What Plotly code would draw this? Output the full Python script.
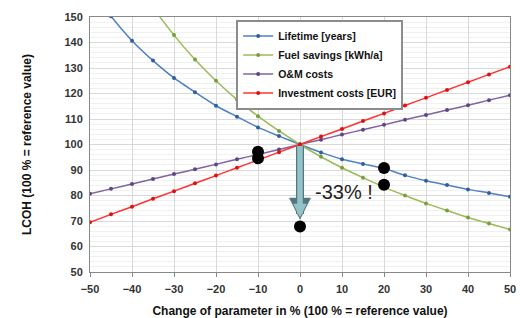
import plotly.graph_objects as go

change = [-50, -45, -40, -35, -30, -25, -20, -15, -10, -5, 0, 5, 10, 15, 20, 25, 30, 35, 40, 45, 50]
lifetime = [161, 150.3, 140.7, 132.9, 126.1, 120.5, 115.2, 110.9, 106.7, 103.3, 100, 96.9, 94.2, 92.4, 90.6, 87.9, 85.8, 84.1, 82.4, 81.0, 79.5]
fuel = [200, 181.8, 166.7, 153.8, 142.9, 133.3, 125, 117.6, 111.1, 105.3, 100, 95.2, 90.9, 87.0, 83.3, 80.0, 76.9, 74.1, 71.4, 69.0, 66.7]
om = [80.7, 82.6, 84.5, 86.5, 88.4, 90.3, 92.2, 94.2, 96.1, 98.0, 100, 101.9, 103.9, 105.8, 107.7, 109.7, 111.6, 113.5, 115.4, 117.4, 119.3]
invest = [69.5, 72.6, 75.6, 78.7, 81.7, 84.8, 87.8, 90.9, 93.9, 97.0, 100, 103.1, 106.1, 109.2, 112.2, 115.3, 118.3, 121.4, 124.4, 127.5, 130.5]

dots_x = [-10, -10, 20, 20, 0]
dots_y = [97.2, 94.6, 90.8, 84.2, 67.8]

arrow_from = 100
arrow_to = 70.5
reduction_label = "-33% !"

series = [
    ("Lifetime [years]", lifetime, "#4F81BD", "#2F5F9F"),
    ("Fuel savings [kWh/a]", fuel, "#9BBB59", "#7A9E3A"),
    ("O&M costs", om, "#8064A2", "#5E4585"),
    ("Investment costs [EUR]", invest, "#FF3333", "#E01010"),
]

fig = go.Figure()
for name, vals, lc, mc in series:
    fig.add_trace(go.Scatter(
        x=change, y=vals, name=name, mode="lines+markers",
        line=dict(color=lc, width=1.5, shape="spline", smoothing=0.6),
        marker=dict(color=mc, size=4),
        cliponaxis=True,
    ))

# arrow (outline + fill)
fig.add_annotation(x=0, y=arrow_to, ax=0, ay=arrow_from, xref="x", yref="y", axref="x", ayref="y",
                   showarrow=True, arrowhead=2, arrowsize=0.55, arrowwidth=8, arrowcolor="#55767c", text="")
fig.add_annotation(x=0, y=arrow_to + 0.9, ax=0, ay=arrow_from, xref="x", yref="y", axref="x", ayref="y",
                   showarrow=True, arrowhead=2, arrowsize=0.5, arrowwidth=5.5, arrowcolor="#93C3C9", text="")

fig.add_trace(go.Scatter(
    x=dots_x, y=dots_y, mode="markers", showlegend=False,
    marker=dict(color="black", size=12),
))

fig.add_annotation(x=10.5, y=81.3, xref="x", yref="y", text=reduction_label, showarrow=False,
                   font=dict(family="Liberation Sans, Arial", size=20, color="#222"))

fig.update_layout(
    width=523, height=318,
    margin=dict(l=90, r=13, t=17, b=46),
    plot_bgcolor="white", paper_bgcolor="white",
    font=dict(family="Liberation Sans, Arial", color="#333"),
    legend=dict(x=0.348, y=0.99, xanchor="left", yanchor="top",
                bordercolor="#8c8c8c", borderwidth=2, bgcolor="white",
                font=dict(size=10.5, color="#111", weight="bold"),
                tracegroupgap=0, itemwidth=30, entrywidth=168),
    showlegend=True,
)
fig.update_xaxes(
    range=[-50, 50], dtick=10, tick0=-50,
    showgrid=True, gridcolor="#d9d9d9", gridwidth=1,
    showline=True, linecolor="#888", linewidth=1, mirror=True,
    ticks="outside", ticklen=4, tickcolor="#888",
    tickfont=dict(size=11, weight="bold", color="#333"),
    ticklabelstandoff=3,
    zeroline=False, automargin=False,
    title=dict(text="Change of parameter in % (100 % = reference value)",
               font=dict(size=12, weight="bold", color="#111"), standoff=16),
)
fig.update_yaxes(
    range=[50, 150], dtick=10,
    showgrid=True, gridcolor="#d9d9d9", gridwidth=1,
    minor=dict(dtick=2, showgrid=True, gridcolor="#f0f0f0"),
    showline=True, linecolor="#888", linewidth=1, mirror=True,
    ticks="", ticklen=4,
    tickfont=dict(size=11, weight="bold", color="#333"),
    ticklabelstandoff=4,
    zeroline=False, automargin=False,
    title=dict(text="LCOH (100 % = reference value)",
               font=dict(size=12, weight="bold", color="#111"), standoff=30),
)

fig.write_html("out.html", config={"displayModeBar": False},
               post_script="document.body.style.margin='0';document.body.style.overflow='hidden';")
